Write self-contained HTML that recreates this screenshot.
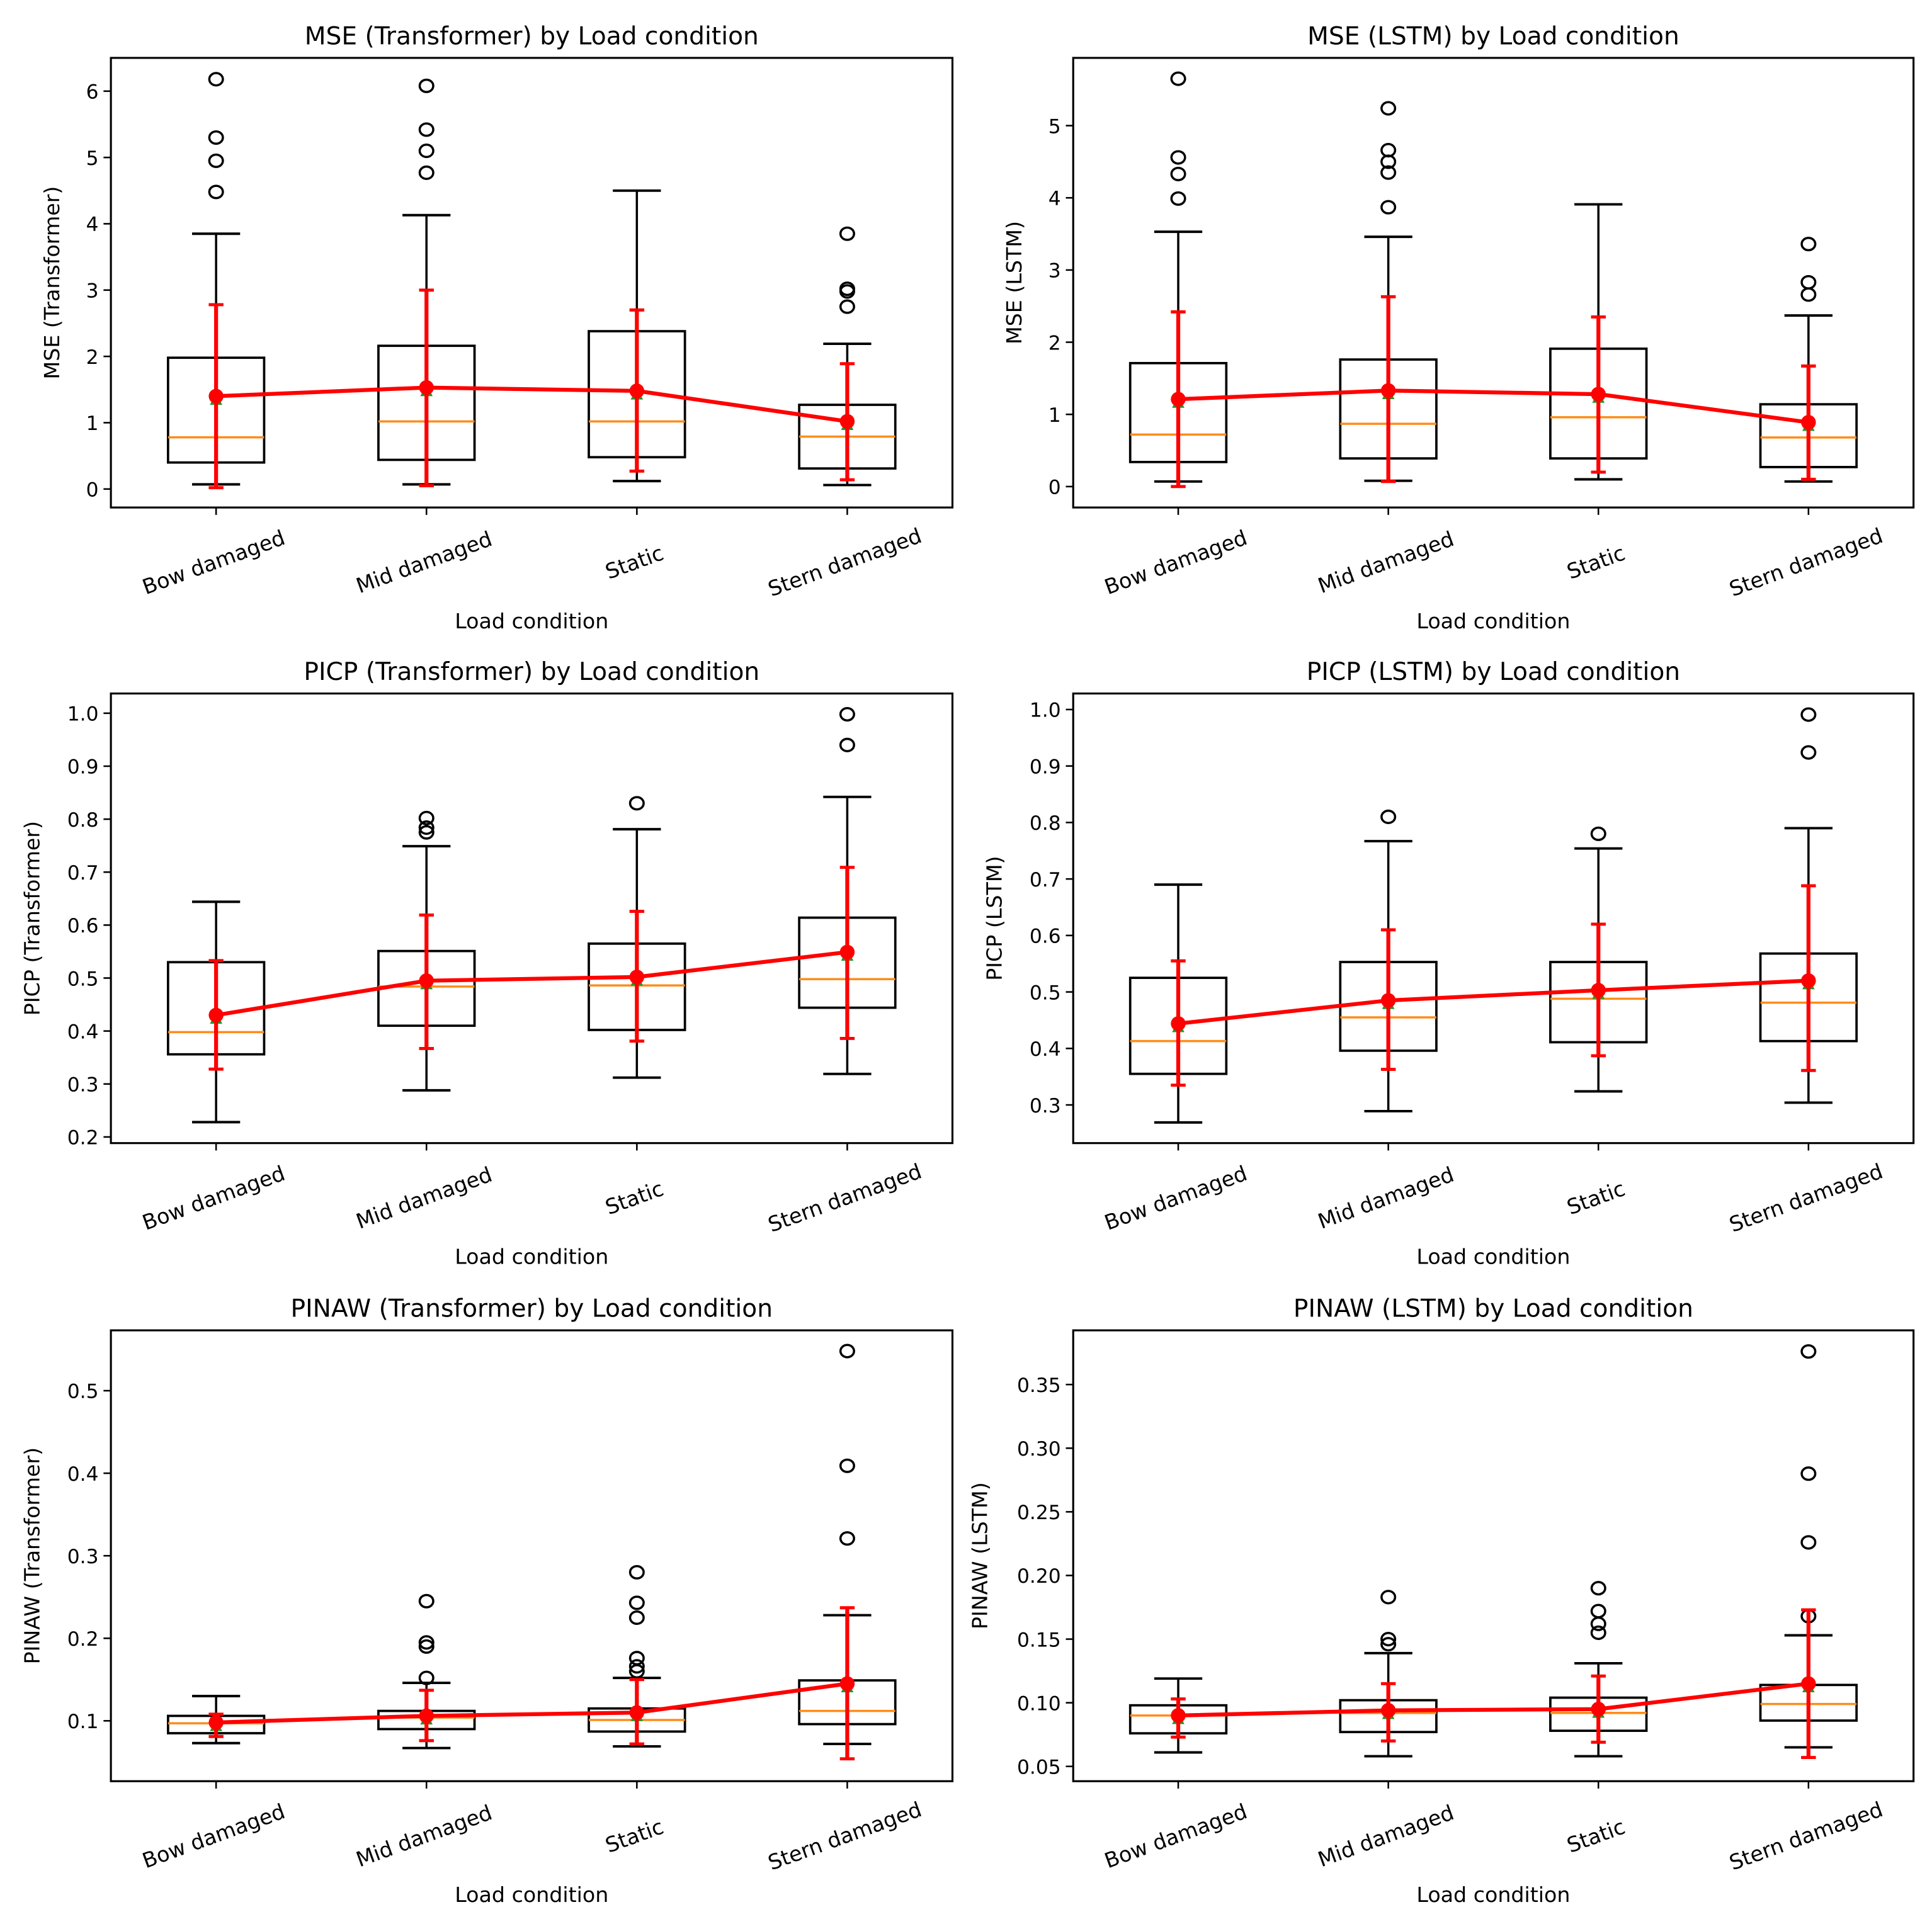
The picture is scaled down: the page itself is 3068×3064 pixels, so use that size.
<!DOCTYPE html>
<html><head><meta charset="utf-8"><style>
html,body{margin:0;padding:0;background:#fff;}
svg{display:block;font-family:"DejaVu Sans","Liberation Sans",sans-serif;}
</style></head><body>
<svg id="fig" width="3068" height="3064" viewBox="0 0 1568 1566" preserveAspectRatio="none" xmlns="http://www.w3.org/2000/svg"></svg>
<script>
const categories = ["Bow damaged","Mid damaged","Static","Stern damaged"];
// each row: [whiskerLow, q1, median, q3, whiskerHigh]
const mseTBox = [[0.07,0.40,0.78,1.98,3.85],[0.07,0.44,1.02,2.16,4.13],[0.12,0.48,1.02,2.38,4.50],[0.06,0.31,0.79,1.27,2.19]];
const mseTOut = [[6.18,5.30,4.95,4.48],[6.08,5.42,5.10,4.77],[],[3.85,3.02,2.98,2.75]];
const mseTMean = [1.40,1.53,1.48,1.02];
const mseTErr = [[0.02,2.78],[0.05,3.00],[0.27,2.70],[0.14,1.89]];

const mseLBox = [[0.07,0.34,0.72,1.71,3.53],[0.08,0.39,0.87,1.76,3.46],[0.10,0.39,0.96,1.91,3.91],[0.07,0.27,0.68,1.14,2.37]];
const mseLOut = [[5.65,4.56,4.33,3.99],[5.24,4.66,4.50,4.35,3.87],[],[3.36,2.83,2.66]];
const mseLMean = [1.21,1.33,1.28,0.89];
const mseLErr = [[0.0,2.42],[0.07,2.63],[0.20,2.35],[0.10,1.67]];

const picpTBox = [[0.228,0.356,0.398,0.530,0.644],[0.288,0.410,0.484,0.551,0.749],[0.312,0.402,0.486,0.565,0.781],[0.319,0.444,0.498,0.614,0.842]];
const picpTOut = [[],[0.802,0.784,0.775],[0.830],[0.998,0.940]];
const picpTMean = [0.430,0.495,0.502,0.549];
const picpTErr = [[0.328,0.533],[0.367,0.619],[0.381,0.626],[0.386,0.709]];

const picpLBox = [[0.269,0.355,0.413,0.525,0.690],[0.289,0.396,0.455,0.553,0.767],[0.324,0.411,0.488,0.553,0.754],[0.304,0.413,0.481,0.568,0.790]];
const picpLOut = [[],[0.810],[0.780],[0.991,0.924]];
const picpLMean = [0.444,0.485,0.503,0.520];
const picpLErr = [[0.335,0.555],[0.363,0.610],[0.387,0.620],[0.361,0.688]];

const pinawTBox = [[0.073,0.085,0.097,0.106,0.130],[0.067,0.090,0.104,0.112,0.146],[0.069,0.087,0.101,0.115,0.152],[0.072,0.096,0.112,0.149,0.228]];
const pinawTOut = [[],[0.245,0.195,0.190,0.152],[0.280,0.243,0.225,0.176,0.166,0.160],[0.548,0.409,0.321]];
const pinawTMean = [0.098,0.106,0.110,0.145];
const pinawTErr = [[0.081,0.108],[0.076,0.137],[0.072,0.150],[0.054,0.237]];

const pinawLBox = [[0.061,0.076,0.090,0.098,0.119],[0.058,0.077,0.092,0.102,0.139],[0.058,0.078,0.092,0.104,0.131],[0.065,0.086,0.099,0.114,0.153]];
const pinawLOut = [[],[0.183,0.150,0.146],[0.190,0.172,0.162,0.155],[0.376,0.280,0.226,0.168]];
const pinawLMean = [0.090,0.094,0.095,0.115];
const pinawLErr = [[0.073,0.103],[0.070,0.115],[0.069,0.121],[0.057,0.173]];

const mseTTicks = ["0","1","2","3","4","5","6"];
const mseLTicks = ["0","1","2","3","4","5"];
const picpTTicks = ["0.2","0.3","0.4","0.5","0.6","0.7","0.8","0.9","1.0"];
const picpLTicks = ["0.3","0.4","0.5","0.6","0.7","0.8","0.9","1.0"];
const pinawTTicks = ["0.1","0.2","0.3","0.4","0.5"];
const pinawLTicks = ["0.05","0.10","0.15","0.20","0.25","0.30","0.35"];

const NS="http://www.w3.org/2000/svg";
const svg=document.getElementById('fig');
function mk(tag,attrs,parent,text){const e=document.createElementNS(NS,tag);for(const k in attrs)e.setAttribute(k,attrs[k]);if(text!==undefined)e.textContent=text;(parent||svg).appendChild(e);return e;}

const panels=[
 {id:"mse-transformer",title:"MSE (Transformer) by Load condition",ylab:"MSE (Transformer)",ylx:48,x0:90,x1:773,y0:47,y1:412,v0:0,p0:397,v1:6,p1:74,box:mseTBox,out:mseTOut,mean:mseTMean,err:mseTErr,ticks:mseTTicks},
 {id:"mse-lstm",title:"MSE (LSTM) by Load condition",ylab:"MSE (LSTM)",ylx:829,x0:871,x1:1553,y0:47,y1:412,v0:0,p0:395,v1:5,p1:102,box:mseLBox,out:mseLOut,mean:mseLMean,err:mseLErr,ticks:mseLTicks},
 {id:"picp-transformer",title:"PICP (Transformer) by Load condition",ylab:"PICP (Transformer)",ylx:32,x0:90,x1:773,y0:563,y1:928,v0:0.2,p0:923,v1:1.0,p1:579,box:picpTBox,out:picpTOut,mean:picpTMean,err:picpTErr,ticks:picpTTicks},
 {id:"picp-lstm",title:"PICP (LSTM) by Load condition",ylab:"PICP (LSTM)",ylx:813,x0:871,x1:1553,y0:563,y1:928,v0:0.3,p0:897,v1:1.0,p1:576,box:picpLBox,out:picpLOut,mean:picpLMean,err:picpLErr,ticks:picpLTicks},
 {id:"pinaw-transformer",title:"PINAW (Transformer) by Load condition",ylab:"PINAW (Transformer)",ylx:32,x0:90,x1:773,y0:1080,y1:1446,v0:0.1,p0:1397,v1:0.5,p1:1129,box:pinawTBox,out:pinawTOut,mean:pinawTMean,err:pinawTErr,ticks:pinawTTicks},
 {id:"pinaw-lstm",title:"PINAW (LSTM) by Load condition",ylab:"PINAW (LSTM)",ylx:801,x0:871,x1:1553,y0:1080,y1:1446,v0:0.05,p0:1434,v1:0.35,p1:1124,box:pinawLBox,out:pinawLOut,mean:pinawLMean,err:pinawLErr,ticks:pinawLTicks}
];

panels.forEach(P=>{
  const g=mk('g',{});
  
  
  const y=v=>P.p0+(v-P.v0)*(P.p1-P.p0)/(P.v1-P.v0);
  const w=P.x1-P.x0, step=w/4;
  const x=i=>P.x0+step*(i+0.5);
  const cx=(P.x0+P.x1)/2;
  const t=mk('text',{x:cx,y:P.y0-11,'text-anchor':'middle','font-size':20},g,P.title);
   
  P.ticks.forEach(s=>{const v=parseFloat(s);const yy=y(v);
    mk('line',{x1:P.x0-6,x2:P.x0,y1:yy,y2:yy,stroke:'#000','stroke-width':1.3},g);
    const tl=mk('text',{x:P.x0-10,y:yy+6,'text-anchor':'end','font-size':16},g,s);
     
  });
  const yl=mk('text',{x:0,y:0,'text-anchor':'middle','font-size':17,transform:`translate(${P.ylx},${(P.y0+P.y1)/2}) rotate(-90)`},g,P.ylab);
   
  categories.forEach((c,i)=>{
    mk('line',{x1:x(i),x2:x(i),y1:P.y1,y2:P.y1+6,stroke:'#000','stroke-width':1.3},g);
    const cl=mk('text',{x:0,y:0,'text-anchor':'middle','font-size':17,transform:`translate(${x(i)},${P.y1+50}) rotate(-20)`},g,c);
     
  });
  const xl=mk('text',{x:cx,y:P.y1+98,'text-anchor':'middle','font-size':17},g,'Load condition');
   
  const bw=78;
  P.box.forEach((b,i)=>{
    const bg=mk('g',{},g);
    
    
    const xc=x(i);
    mk('line',{x1:xc,x2:xc,y1:y(b[0]),y2:y(b[1]),stroke:'#000','stroke-width':1.8},bg);
    mk('line',{x1:xc,x2:xc,y1:y(b[3]),y2:y(b[4]),stroke:'#000','stroke-width':1.8},bg);
    mk('line',{x1:xc-bw/4,x2:xc+bw/4,y1:y(b[0]),y2:y(b[0]),stroke:'#000','stroke-width':2},bg);
    mk('line',{x1:xc-bw/4,x2:xc+bw/4,y1:y(b[4]),y2:y(b[4]),stroke:'#000','stroke-width':2},bg);
    mk('rect',{x:xc-bw/2,y:y(b[3]),width:bw,height:y(b[1])-y(b[3]),fill:'none',stroke:'#000','stroke-width':1.9},bg);
    mk('line',{x1:xc-bw/2,x2:xc+bw/2,y1:y(b[2]),y2:y(b[2]),stroke:'#ff8c1a','stroke-width':1.8},bg);
    P.out[i].forEach(o=>{
      const c=mk('ellipse',{cx:xc,cy:y(o),rx:5.5,ry:5,fill:'none',stroke:'#000','stroke-width':1.8},bg);
       
    });
    const my=y(P.mean[i]);
    mk('polygon',{points:`${xc},${my-3} ${xc-5},${my+7} ${xc+5},${my+7}`,fill:'#1a9a2a'},bg);
  });
  P.err.forEach((e,i)=>{
    const xc=x(i);
    const eb=mk('g',{},g);
     
    mk('line',{x1:xc,x2:xc,y1:y(e[0]),y2:y(e[1]),stroke:'#ff0000','stroke-width':3.2},eb);
    mk('line',{x1:xc-6,x2:xc+6,y1:y(e[0]),y2:y(e[0]),stroke:'#ff0000','stroke-width':2.5},eb);
    mk('line',{x1:xc-6,x2:xc+6,y1:y(e[1]),y2:y(e[1]),stroke:'#ff0000','stroke-width':2.5},eb);
  });
  const pts=P.mean.map((m,i)=>x(i)+','+y(m)).join(' ');
  const pl=mk('polyline',{points:pts,fill:'none',stroke:'#ff0000','stroke-width':3.2},g);
   
  P.mean.forEach((m,i)=>{
    const d=mk('circle',{cx:x(i),cy:y(m),r:6,fill:'#ff0000'},g);
     
  });
  const fr=mk('rect',{x:P.x0,y:P.y0,width:w,height:P.y1-P.y0,fill:'none',stroke:'#000','stroke-width':1.6},g);
   
});
</script>
</body></html>
